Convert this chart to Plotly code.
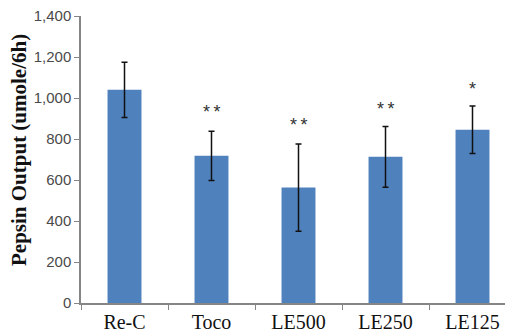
import plotly.graph_objects as go

categories = ["Re-C", "Toco", "LE500", "LE250", "LE125"]
values = [1040, 718, 563, 713, 845]
errors = [135, 120, 213, 148, 116]
stars = ["", "*\u2009*", "*\u2009*", "*\u2009*", "*"]
star_y = [None, 931, 868, 946, 1043]
y_ticks = [0, 200, 400, 600, 800, 1000, 1200, 1400]

# page body has an 8px default margin; compensate in figure margins
ML, MT, PH = 73, 8, 287
W, H = 513, 335
MB = H - MT - PH
PW = W - ML
CAT_PX = 87

fig = go.Figure()
fig.add_trace(go.Bar(
    x=categories, y=values,
    marker=dict(color="#4F81BD", line=dict(width=0)),
    error_y=dict(type="data", array=errors, visible=True, color="#111111", thickness=1.5, width=3),
))

for c, s, sy in zip(categories, stars, star_y):
    if s:
        fig.add_annotation(x=c, y=sy, text=s, showarrow=False,
                           font=dict(family="Liberation Sans, Arial", size=18, color="#333333"),
                           xanchor="center", yanchor="middle")

fig.add_annotation(
    xref="paper", yref="paper", x=(19 - 8 - ML) / PW, y=(303 - 150) / PH,
    text="<b>Pepsin Output (umole/6h)</b>", textangle=-90, showarrow=False,
    xanchor="center", yanchor="middle",
    font=dict(family="Liberation Serif, Times New Roman", size=21, color="#111111"),
)

fig.update_layout(
    width=W, height=H,
    margin=dict(l=ML, r=0, t=MT, b=MB, autoexpand=False),
    paper_bgcolor="white", plot_bgcolor="white",
    bargap=0.61,
    showlegend=False,
    xaxis=dict(
        range=[-0.5, -0.5 + PW / CAT_PX],
        automargin=False,
        showline=True, linecolor="#868686", linewidth=1.5,
        ticks="outside", tickson="boundaries", ticklen=5, tickcolor="#868686",
        tickfont=dict(family="Liberation Serif, Times New Roman", size=20, color="#111111"),
        showgrid=False, zeroline=False,
    ),
    yaxis=dict(
        range=[0, 1400],
        automargin=False,
        ticklabeloverflow="allow",
        tickvals=y_ticks,
        tickformat=",d",
        showline=True, linecolor="#868686", linewidth=1.5,
        ticks="outside", ticklen=5, tickcolor="#868686",
        tickfont=dict(family="Liberation Sans, Arial", size=15, color="#4a4a4a"),
        showgrid=False, zeroline=False,
    ),
)

fig.write_html("out.html")
